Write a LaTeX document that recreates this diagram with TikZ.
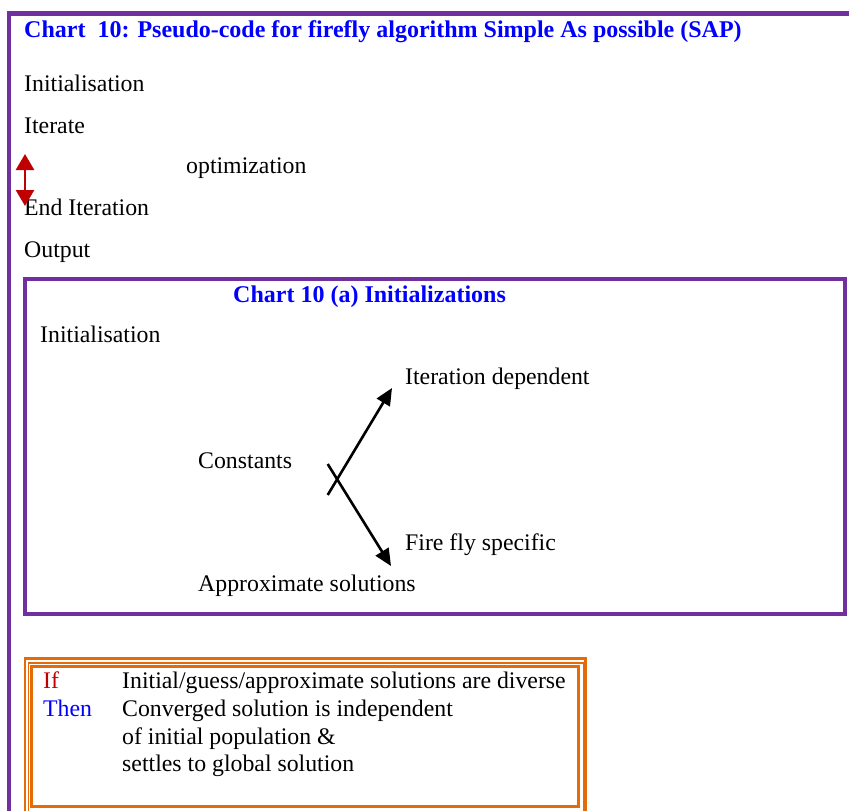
\documentclass[tikz,border=0pt]{standalone}
\usepackage{fontspec}
\setmainfont{Liberation Serif}
\usetikzlibrary{arrows.meta}
\definecolor{frame}{HTML}{7030A0}
\definecolor{orng}{HTML}{E36C09}
\definecolor{hdblue}{HTML}{0000FF}
\definecolor{darkred}{HTML}{C00000}
\begin{document}
\begin{tikzpicture}[x=1pt,y=-1pt,
  txt/.style={anchor=base west,inner sep=0pt,font=\fontsize{23.8}{28}\selectfont},
  head/.style={txt,font=\fontsize{24}{28}\selectfont\bfseries,text=hdblue},
  purpleline/.style={draw=frame,line width=4.4pt},
  orangeline/.style={draw=orng},
  blackarrow/.style={line width=2.6pt,-{Triangle[length=17pt,width=15pt]}},
  redarrow/.style={draw=darkred,line width=2.6pt,{Triangle[length=16pt,width=18pt]}-{Triangle[length=16pt,width=18pt]}}]
\useasboundingbox (0,0) rectangle (849,811);
\clip (0,0) rectangle (849,811);
\fill[white] (0,0) rectangle (849,811);

% outer frame: top and left edges
\draw[purpleline] (852,13.5) -- (9,13.5) -- (9,815);

% main pseudo-code
\node[head] (title) at (24,37) {Chart\ \ 10: Pseudo-code for firefly algorithm Simple As possible (SAP)};
\node[txt] (init) at (24,91) {Initialisation};
\node[txt] (iter) at (24,133) {Iterate};
\node[txt] (opt) at (186,173) {optimization};
\node[txt] (enditer) at (24,215) {End Iteration};
\node[txt] (out) at (24,257) {Output};
\coordinate (loopTop) at (25,154);
\coordinate (loopBot) at (25,206);
\draw[redarrow] (loopTop) -- (loopBot);

% chart 10 (a) box
\draw[purpleline] (25,279) rectangle (844.7,613.8);
\node[head] (subtitle) at (233,302) {Chart 10 (a) Initializations};
\node[txt] (init2) at (40,342) {Initialisation};
\node[txt] (itdep) at (405,384) {Iteration dependent};
\node[txt] (const) at (198,468) {Constants};
\node[txt] (ffspec) at (405,550) {Fire fly specific};
\node[txt] (approx) at (198,591) {Approximate solutions};
\coordinate (upStart) at (327.7,495);
\coordinate (upEnd) at (392,388);
\coordinate (downStart) at (327.7,464);
\coordinate (downEnd) at (391,566);
\draw[blackarrow] (upStart) -- (upEnd);
\draw[blackarrow] (downStart) -- (downEnd);

% triple-lined rule box
\draw[orangeline,line width=2.6pt] (25,658.3) rectangle (585.7,816);
\draw[orangeline,line width=1.4pt] (28.5,663) rectangle (583.3,812);
\draw[orangeline,line width=2.6pt] (31.7,666.3) rectangle (578.7,806.7);
\node[txt,text=darkred] (if) at (43,688) {If};
\node[txt,text=hdblue] (then) at (43,716.5) {Then};
\node[txt] (cond) at (122,688) {Initial/guess/approximate solutions are diverse};
\node[txt] (res1) at (122,716.5) {Converged solution is independent};
\node[txt] (res2) at (122,744) {of initial population \&};
\node[txt] (res3) at (122,771.5) {settles to global solution};
\end{tikzpicture}
\end{document}
